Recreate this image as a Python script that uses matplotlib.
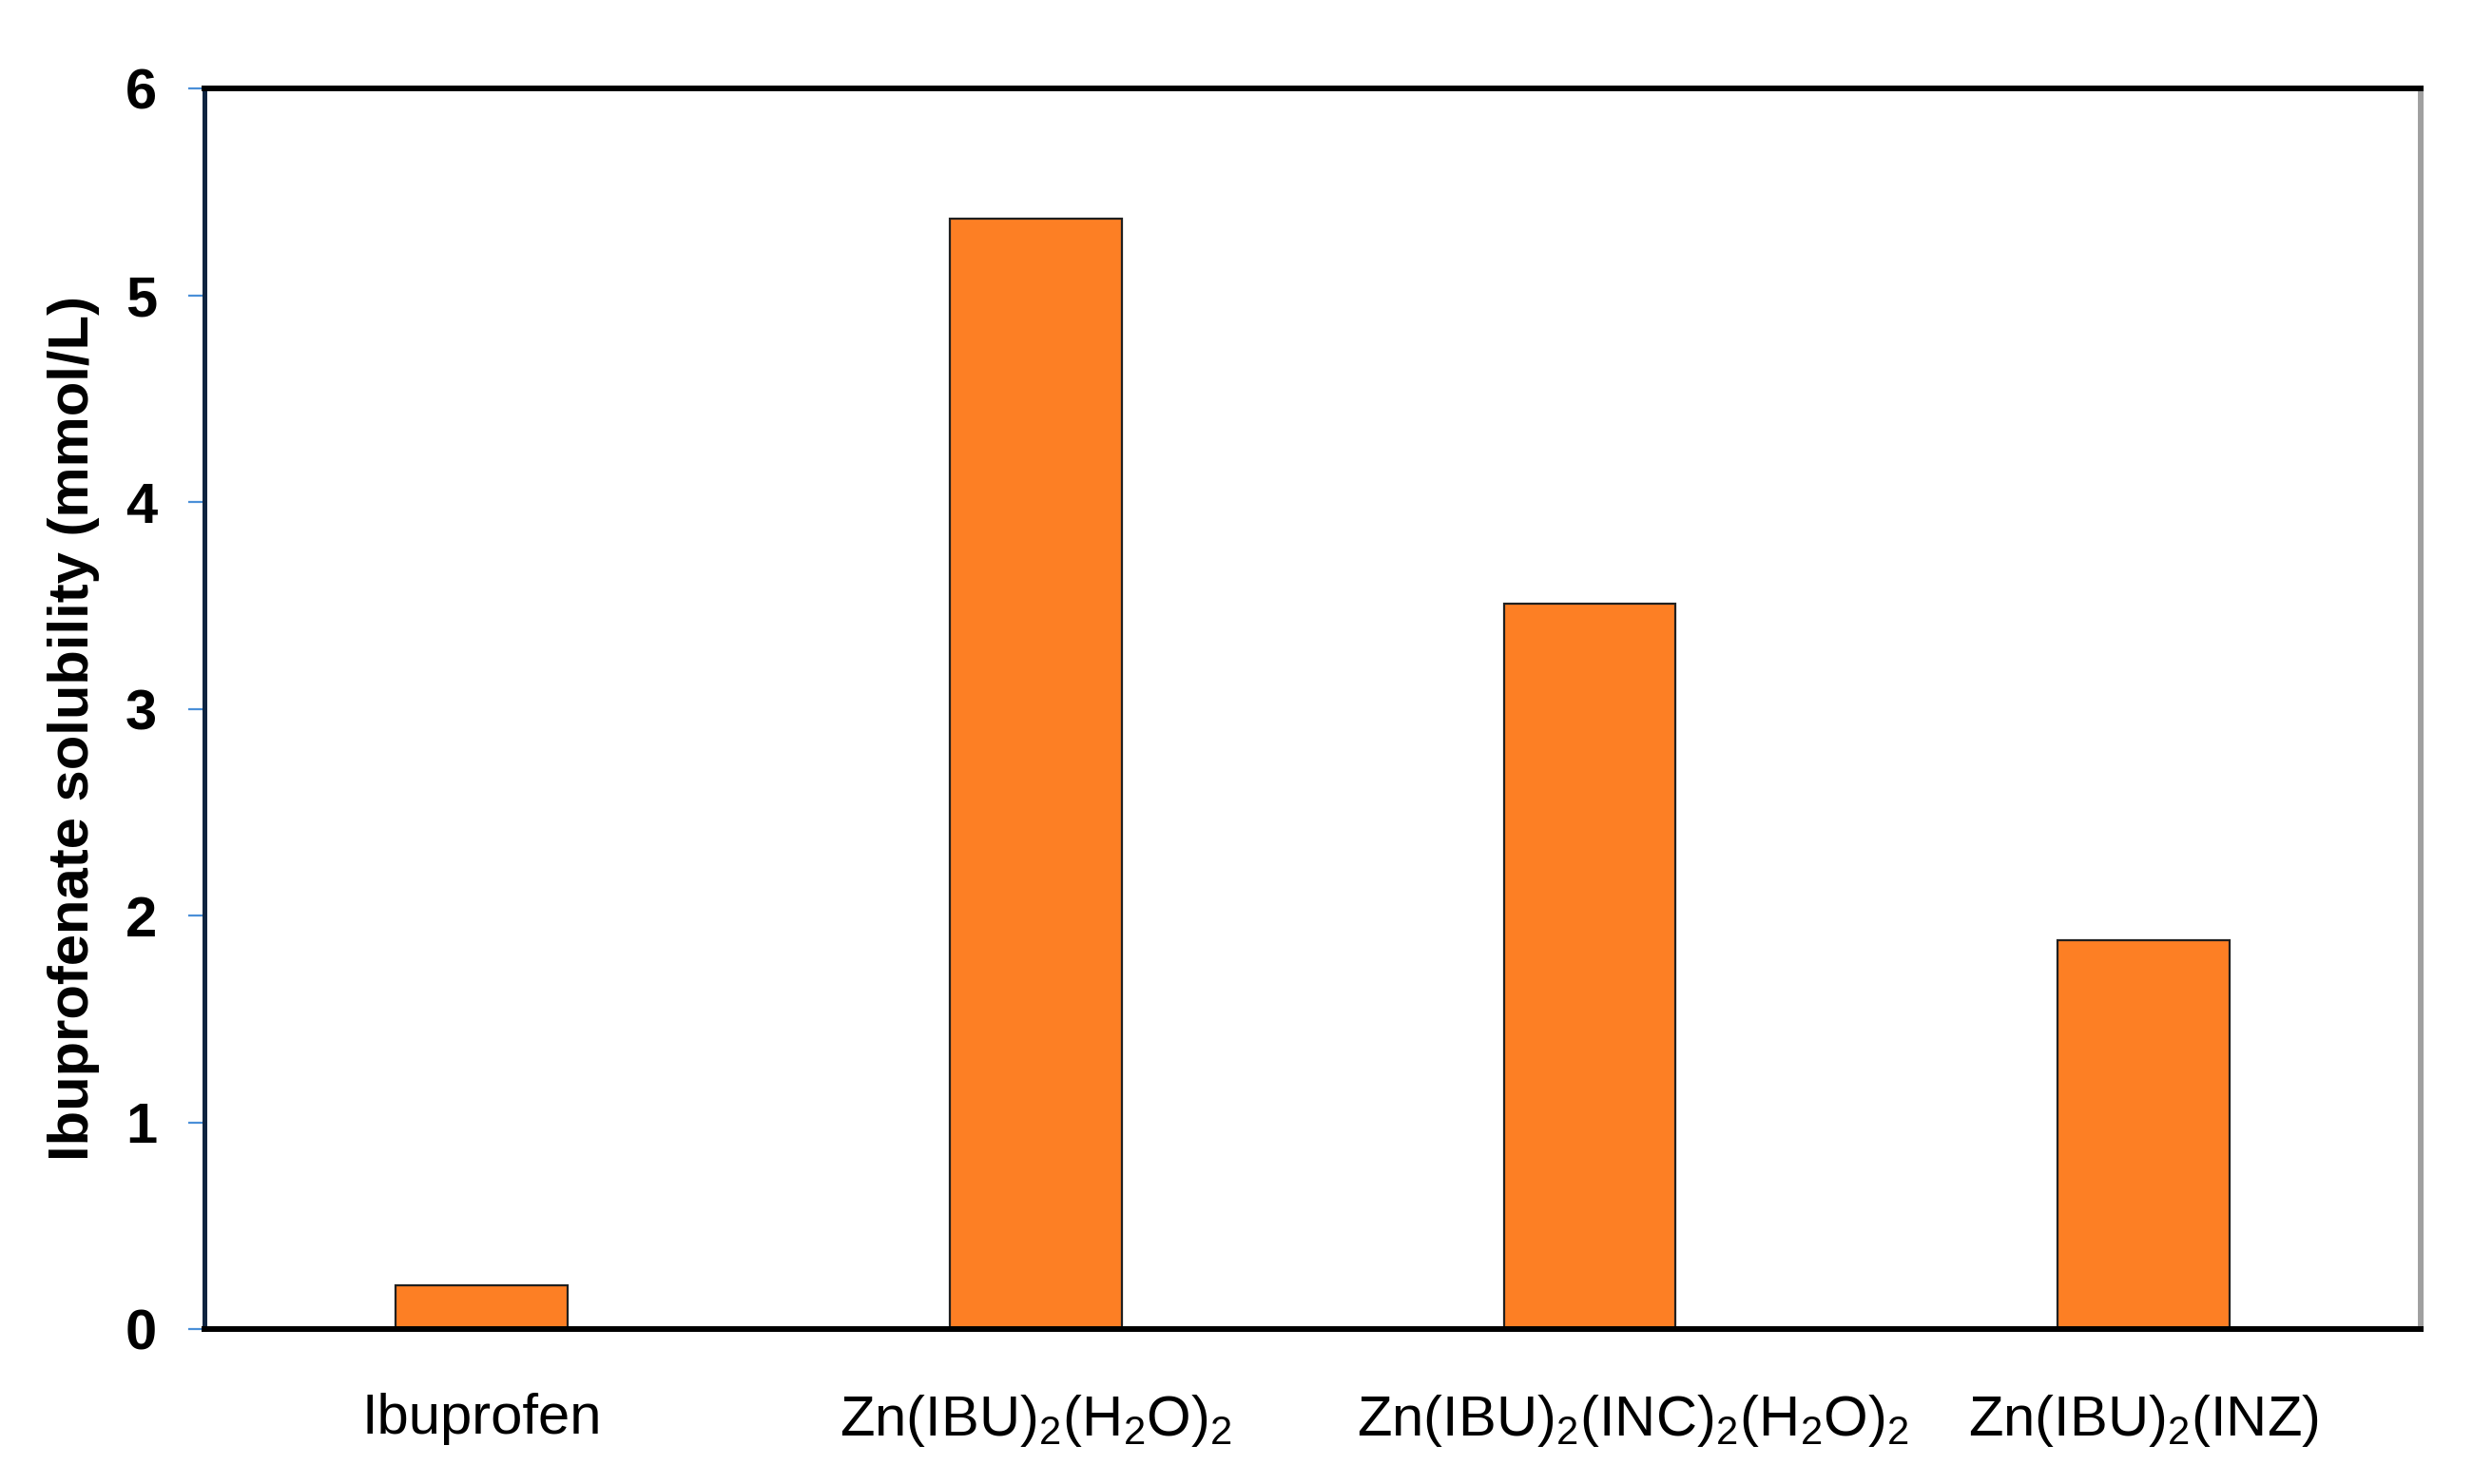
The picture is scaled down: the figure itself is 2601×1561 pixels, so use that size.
"""Bar chart of ibuprofenate solubility for ibuprofen and its Zn complexes."""

import matplotlib

matplotlib.use("Agg")  # no display in the sandbox
import matplotlib.pyplot as plt
from matplotlib.transforms import ScaledTranslation

# ------------------------------------------------------------------
# Data
# ------------------------------------------------------------------
compounds = [
    "Ibuprofen",
    r"Zn(IBU)$_2$(H$_2$O)$_2$",
    r"Zn(IBU)$_2$(INC)$_2$(H$_2$O)$_2$",
    r"Zn(IBU)$_2$(INZ)",
]
solubility = [0.21, 5.37, 3.51, 1.88]  # mmol/L
y_ticks = [0, 1, 2, 3, 4, 5, 6]

BAR_COLOR = "#FD7F24"
TICK_BLUE = "#4A8FD8"

plt.rcParams["font.family"] = ["Liberation Sans", "DejaVu Sans"]
plt.rcParams["mathtext.fontset"] = "custom"
plt.rcParams["mathtext.rm"] = "Liberation Sans"
plt.rcParams["mathtext.it"] = "Liberation Sans"
plt.rcParams["mathtext.bf"] = "Liberation Sans:bold"

fig = plt.figure(figsize=(26.01, 15.61), dpi=100)
ax = fig.add_axes([0.0827, 0.1044, 0.8962, 0.8360])

x = range(len(compounds))
ax.bar(x, solubility, width=0.31, color=BAR_COLOR,
       edgecolor="#202020", linewidth=1.6, zorder=2)

ax.set_xlim(-0.5, len(compounds) - 0.5)
ax.set_ylim(0, 6)
ax.set_xticks(list(x))
ax.set_xticklabels(compounds, fontsize=43)
ax.set_yticks(y_ticks)
ax.set_yticklabels([str(t) for t in y_ticks], fontsize=43, fontweight="bold")

ax.tick_params(axis="x", length=0, pad=48)
ax.tick_params(axis="y", direction="out", length=12, width=1.6,
               color=TICK_BLUE, pad=24)

# the long third label sits a little right of its bar in the original
lbl = ax.get_xticklabels()[2]
lbl.set_transform(lbl.get_transform()
                  + ScaledTranslation(0.45, 0, fig.dpi_scale_trans))

# frame: heavy black top/bottom, navy left, grey right
ax.spines["top"].set_color("black")
ax.spines["top"].set_linewidth(4.3)
ax.spines["bottom"].set_color("black")
ax.spines["bottom"].set_linewidth(4.3)
ax.spines["left"].set_color("#0E2440")
ax.spines["left"].set_linewidth(3.6)
ax.spines["right"].set_color("#A0A0A0")
ax.spines["right"].set_linewidth(4.3)
for sp in ax.spines.values():
    sp.set_zorder(3)

ax.set_ylabel("Ibuprofenate solubility (mmol/L)", fontsize=43,
              fontweight="bold", va="center")
ax.yaxis.set_label_coords(-0.0592, 0.484)

fig.savefig("out.png", dpi=100)
